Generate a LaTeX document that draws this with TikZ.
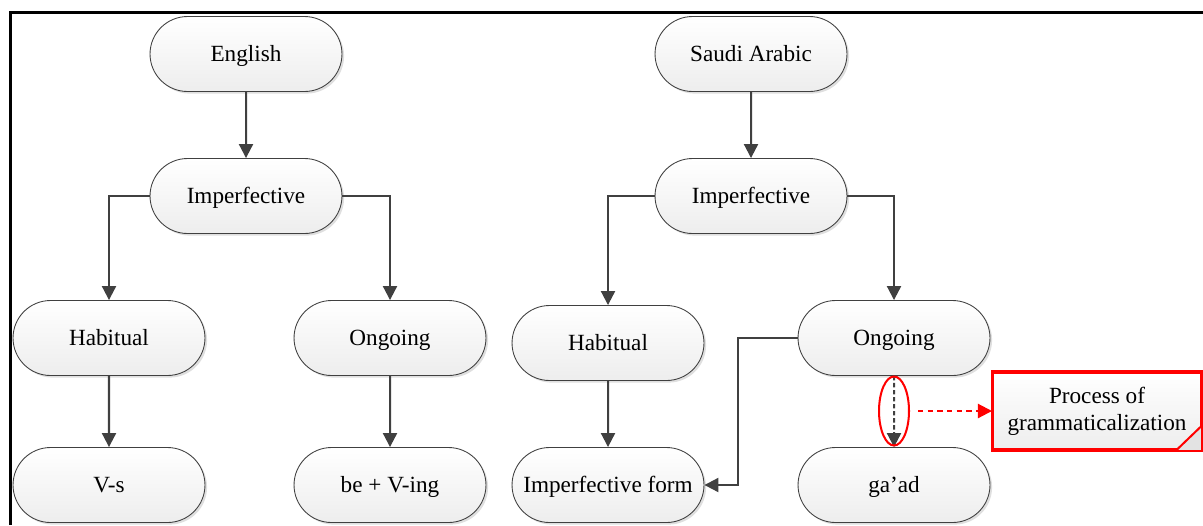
\documentclass[tikz,border=0pt]{standalone}
\usepackage{fontspec}
\setmainfont{Liberation Serif}
\usetikzlibrary{arrows.meta,shadows,shapes.geometric,shapes.misc}
\definecolor{linegray}{HTML}{404040}
\begin{document}
\begin{tikzpicture}[x=0.02cm,y=-0.02cm,
  term/.style={rounded rectangle, draw=linegray, line width=0.5pt,
    minimum width=3.84cm, minimum height=1.5cm, inner sep=0pt,
    text height=9pt, text depth=0pt,
    top color=white, bottom color=gray!14,
    drop shadow={shadow xshift=1.2pt, shadow yshift=-1.2pt, opacity=0.25, fill=gray},
    font=\fontsize{13.2}{15.3}\selectfont},
  arr/.style={draw=linegray, line width=1.15pt,
    -{Triangle[length=8pt,width=8pt]}},
  redline/.style={draw=red, line width=1.15pt}]
\useasboundingbox (0,0) rectangle (1203,525);

% frame
\draw[line width=2pt] (10.5,525) -- (10.5,12.5) -- (1203,12.5);

% English tree
\node[term] (en)   at (246,54)  {English};
\node[term] (impL) at (246,196) {Imperfective};
\node[term] (habL) at (109,338) {Habitual};
\node[term] (ongL) at (390,338) {Ongoing};
\node[term] (vs)   at (109,485) {V-s};
\node[term] (bev)  at (390,485) {be + V-ing};

% Saudi Arabic tree
\node[term] (sa)   at (751,54)  {Saudi Arabic};
\node[term] (impR) at (751,196) {Imperfective};
\node[term] (habR) at (608,343) {Habitual};
\node[term] (ongR) at (894,338) {Ongoing};
\node[term] (impf) at (608,485) {Imperfective form};
\node[term] (gaad) at (894,485) {ga’ad};

% grammaticalization note
\node[rectangle, redline, minimum width=4.16cm, minimum height=1.54cm,
  top color=white, bottom color=gray!14, align=center, inner sep=0pt,
  font=\fontsize{13.2}{15.3}\selectfont] (proc) at (1097,411)
  {Process of\\grammaticalization};
\fill[gray!22] ([xshift=-0.52cm]proc.south east) -- ([yshift=0.5cm]proc.south east)
  -- (proc.south east) -- cycle;
\draw[redline] ([xshift=-0.52cm]proc.south east) -- ([yshift=0.5cm]proc.south east);
\draw[redline] (proc.south west) rectangle (proc.north east);

% connectors, English
\draw[arr] (en) -- (impL);
\draw[arr] (impL.west) -| (habL);
\draw[arr] (impL.east) -| (ongL);
\draw[arr] (habL) -- (vs);
\draw[arr] (ongL) -- (bev);

% connectors, Saudi Arabic
\draw[arr] (sa) -- (impR);
\draw[arr] (impR.west) -| (habR);
\draw[arr] (impR.east) -| (ongR);
\draw[arr] (habR) -- (impf);
\coordinate (bend) at (738,338);
\draw[arr] (ongR.west) -- (bend) |- (impf.east);
\draw[arr, dash pattern=on 2.5pt off 1.5pt] (ongR) -- (gaad);

% highlight of the ongoing-to-ga'ad step
\node[ellipse, redline, minimum width=0.6cm, minimum height=1.38cm, inner sep=0pt]
  (oval) at (894,411) {};
\draw[red, line width=1.15pt, dash pattern=on 3pt off 2.5pt,
  -{Triangle[length=8pt,width=8pt]}, shorten <=0.16cm] (oval.east) -- (proc.west);
\end{tikzpicture}
\end{document}
